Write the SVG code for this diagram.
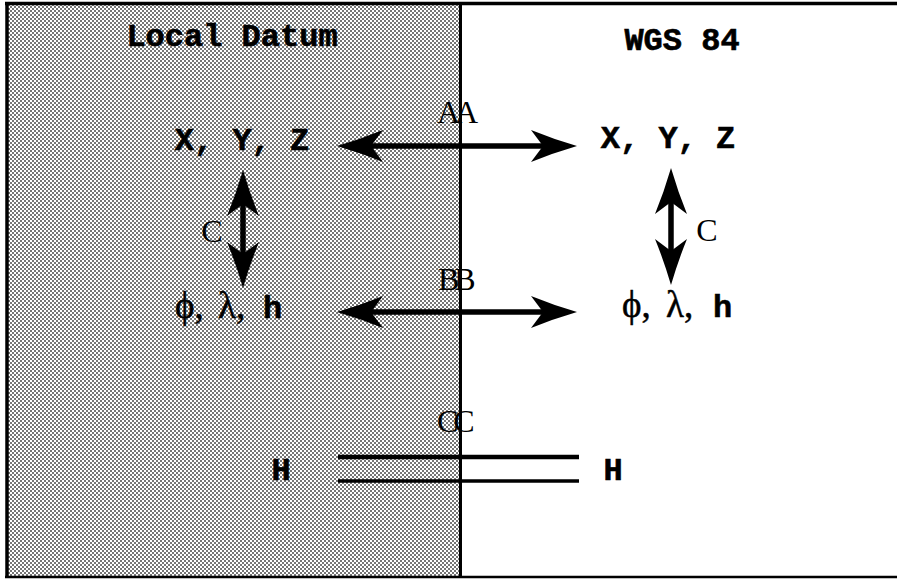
<svg xmlns="http://www.w3.org/2000/svg" width="897" height="579" viewBox="0 0 897 579">
  <defs>
    <pattern id="dots" patternUnits="userSpaceOnUse" width="4" height="4">
      <rect width="4" height="4" fill="#ffffff"/>
      <rect x="0" y="0" width="2" height="2" fill="#767676"/>
      <rect x="2" y="2" width="2" height="2" fill="#767676"/>
    </pattern>
    <marker id="head" markerUnits="userSpaceOnUse" viewBox="0 -17 46 34" markerWidth="46" markerHeight="34" refX="14" refY="0" orient="auto-start-reverse" overflow="visible">
      <path d="M0,-16 Q22,-7 46,0 Q22,7 0,16 L12,0 Z" fill="#000"/>
    </marker>
    <style>
      .mono { font-family: "Liberation Mono", "Courier New", monospace; font-weight: bold; font-size: 32px; fill: #000; stroke: #000; stroke-width: 0.6px; }
      .serif { font-family: "Liberation Serif", "Times New Roman", serif; font-size: 32px; fill: #000; }
      .greek { font-family: "Liberation Serif", "Times New Roman", serif; font-weight: normal; font-size: 37px; stroke-width: 0.5px; }
      .lbl { font-family: "Liberation Serif", "Times New Roman", serif; font-size: 32px; fill: #000; letter-spacing: -5px; }
      .arrow { stroke: #000; stroke-width: 5.5; fill: none; marker-start: url(#head); marker-end: url(#head); }
      .bar { stroke: #000; fill: none; }
      .frame { stroke: #000; fill: none; }
    </style>
  </defs>

  <g id="background">
    <rect x="0" y="0" width="897" height="579" fill="#ffffff"/>
    <rect x="8" y="4" width="452" height="573" fill="url(#dots)"/>
    <line class="frame" x1="5" y1="3.5" x2="897" y2="3.5" stroke-width="3.5"/>
    <line class="frame" x1="7" y1="2" x2="7" y2="578" stroke-width="3.5"/>
    <line class="frame" x1="5" y1="577" x2="897" y2="577" stroke-width="2.5"/>
    <line class="frame" x1="460.5" y1="2" x2="460.5" y2="578" stroke-width="3"/>
  </g>

  <g id="local-datum-title">
    <text class="mono" x="232" y="46" text-anchor="middle">Local Datum</text>
  </g>
  <g id="wgs84-title">
    <text class="mono" x="682" y="50" text-anchor="middle">WGS 84</text>
  </g>

  <g id="local-xyz">
    <text class="mono" x="242" y="150" text-anchor="middle">X, Y, Z</text>
  </g>
  <g id="wgs-xyz">
    <text class="mono" x="668" y="148" text-anchor="middle">X, Y, Z</text>
  </g>

  <g id="local-plh">
    <text class="mono" y="318"><tspan class="greek" x="175">ϕ,</tspan><tspan class="greek" x="218">λ,</tspan><tspan x="263">h</tspan></text>
  </g>
  <g id="wgs-plh">
    <text class="mono" y="317"><tspan class="greek" x="622">ϕ,</tspan><tspan class="greek" x="666">λ,</tspan><tspan x="713">h</tspan></text>
  </g>

  <g id="local-h">
    <text class="mono" x="281" y="480" text-anchor="middle">H</text>
  </g>
  <g id="wgs-h">
    <text class="mono" x="613" y="480" text-anchor="middle">H</text>
  </g>

  <g id="connectors">
    <line class="arrow" x1="369" y1="146" x2="545" y2="146"/>
    <line class="arrow" x1="369" y1="312" x2="545" y2="312"/>
    <line class="arrow" x1="243" y1="202" x2="243" y2="256"/>
    <line class="arrow" x1="671" y1="200" x2="671" y2="253"/>
    <line class="bar" x1="338" y1="457" x2="579" y2="457" stroke-width="4.5"/>
    <line class="bar" x1="338" y1="481" x2="579" y2="481" stroke-width="3.5"/>
  </g>

  <g id="labels">
    <text class="lbl" x="437" y="123">AA</text>
    <text class="lbl" x="438" y="290">BB</text>
    <text class="lbl" x="437" y="432">CC</text>
    <text class="serif" x="212" y="242" text-anchor="middle">C</text>
    <text class="serif" x="707" y="241" text-anchor="middle">C</text>
  </g>
</svg>
